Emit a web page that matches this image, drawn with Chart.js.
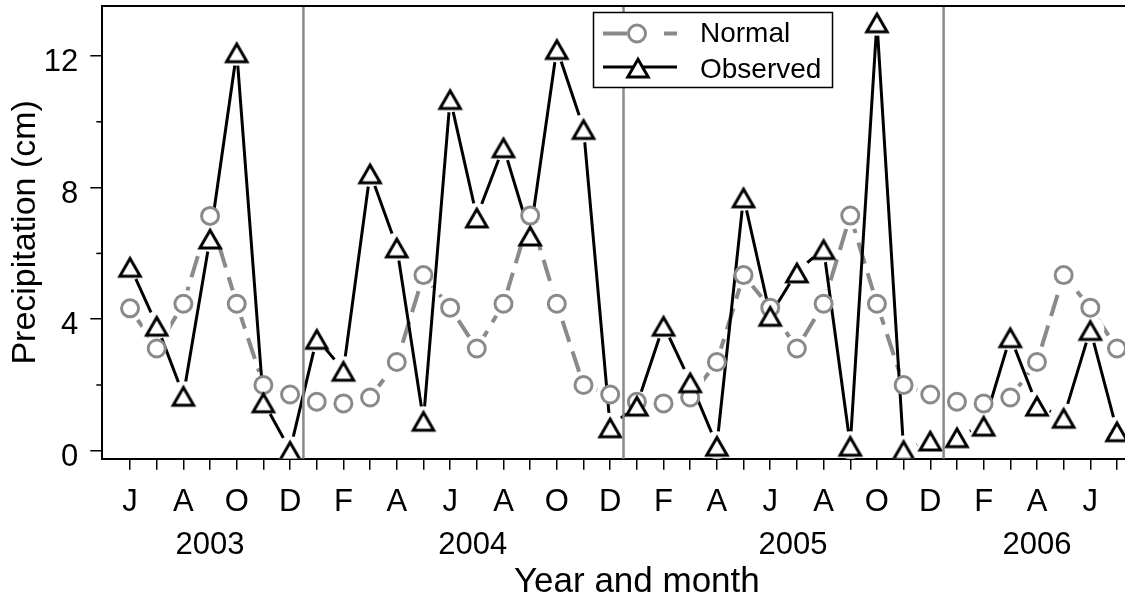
<!DOCTYPE html>
<html>
<head>
<meta charset="utf-8">
<title>Precipitation, normal vs observed</title>
<script src="https://cdn.jsdelivr.net/npm/chart.js"></script>
<style>
  body { margin: 0; background: #fff; }
  #wrap { width: 1125px; height: 600px; }
</style>
</head>
<body>
<div id="wrap"><canvas id="precipChart" width="1125" height="600"></canvas></div>
<script>
// month letters, Jun 2003 .. Jul 2006
var months = ["J", "J", "A", "S", "O", "N", "D",
  "J", "F", "M", "A", "M", "J", "J", "A", "S", "O", "N", "D",
  "J", "F", "M", "A", "M", "J", "J", "A", "S", "O", "N", "D",
  "J", "F", "M", "A", "M", "J", "J"];
var years = ["2003", "2004", "2005", "2006"];

// precipitation (cm)
var normal = [4.33, 3.11, 4.47, 7.14, 4.47, 2.0, 1.71,
  1.49, 1.44, 1.62, 2.7, 5.34, 4.35, 3.11, 4.47, 7.15, 4.47, 2.0, 1.71,
  1.49, 1.44, 1.62, 2.7, 5.34, 4.35, 3.11, 4.47, 7.15, 4.47, 2.0, 1.71,
  1.49, 1.44, 1.62, 2.7, 5.34, 4.35, 3.11];
var observed = [5.61, 3.82, 1.69, 6.47, 12.13, 1.49, 0.02,
  3.42, 2.45, 8.45, 6.2, 0.93, 10.71, 7.11, 9.24, 6.56, 12.23, 9.8, 0.73,
  1.39, 3.82, 2.1, 0.17, 7.72, 4.12, 5.44, 6.15, 0.17, 13.04, 0.04, 0.33,
  0.43, 0.78, 3.47, 1.39, 1.02, 3.69, 0.61];

var yTicks = [0, 4, 8, 12];
var yMinorTicks = [2, 6, 10];

// layout bits (month index units)
var yearLabelPos = [3, 12.85, 24.85, 34];
var yearBreaks = [6.5, 18.5, 30.5];
var xTitlePos = 19;

var GRAY = "#8a8a8a";
var FONT = "'Liberation Sans', Arial, sans-serif";
Chart.defaults.font.family = FONT;
Chart.defaults.color = "#000";

function toPoints(arr) {
  return arr.map(function (v, i) { return { x: i, y: v }; });
}

// scales must not push the plot area in
function noPad(s) {
  s.paddingTop = 0; s.paddingBottom = 0;
  s.paddingLeft = 0; s.paddingRight = 0;
}

// R style open triangle, sits a little low on its point
function makeTriangle() {
  var c = document.createElement("canvas");
  c.width = 32; c.height = 32;
  var g = c.getContext("2d");
  var r = 11.8, cx = 16, cy = 16 + 4;
  g.beginPath();
  g.moveTo(cx, cy - r);
  g.lineTo(cx + r * Math.sqrt(3) / 2, cy + r / 2);
  g.lineTo(cx - r * Math.sqrt(3) / 2, cy + r / 2);
  g.closePath();
  g.fillStyle = "#fff";
  g.fill();
  g.lineWidth = 3;
  g.strokeStyle = "#000";
  g.stroke();
  return c;
}
var triangle = makeTriangle();

var extras = {
  id: "extras",
  afterDatasetsDraw: function (chart) {
    var ctx = chart.ctx, a = chart.chartArea, x = chart.scales.x;
    ctx.save();
    ctx.strokeStyle = GRAY;
    ctx.lineWidth = 2.5;
    yearBreaks.forEach(function (b) {
      var px = x.getPixelForValue(b);
      ctx.beginPath();
      ctx.moveTo(px, a.top);
      ctx.lineTo(px, a.bottom);
      ctx.stroke();
    });
    ctx.restore();
  },
  afterDraw: function (chart) {
    var ctx = chart.ctx, a = chart.chartArea, y = chart.scales.y, x = chart.scales.x;
    ctx.save();
    ctx.strokeStyle = "#000";
    ctx.lineWidth = 2;
    ctx.beginPath();
    ctx.moveTo(a.left - 1, a.top);
    ctx.lineTo(a.right, a.top);
    ctx.stroke();

    ctx.lineWidth = 1.5;
    yMinorTicks.forEach(function (v) {
      var py = y.getPixelForValue(v);
      ctx.beginPath();
      ctx.moveTo(a.left - 6, py);
      ctx.lineTo(a.left, py);
      ctx.stroke();
    });

    // x axis title, R puts it a bit right of centre
    ctx.fillStyle = "#000";
    ctx.font = "35px " + FONT;
    ctx.textAlign = "center";
    ctx.textBaseline = "alphabetic";
    ctx.fillText("Year and month", x.getPixelForValue(xTitlePos), 591.5);

    // legend box
    var lx = 593.5, ly = 12.5;
    ctx.fillStyle = "#fff";
    ctx.fillRect(lx, ly, 239, 75);
    ctx.lineWidth = 1.5;
    ctx.strokeStyle = "#000";
    ctx.strokeRect(lx, ly, 239, 75);

    ctx.strokeStyle = GRAY;
    ctx.lineWidth = 4;
    ctx.setLineDash([24, 37]);
    ctx.beginPath();
    ctx.moveTo(603, 33.5);
    ctx.lineTo(677, 33.5);
    ctx.stroke();
    ctx.setLineDash([]);
    ctx.lineWidth = 3;
    ctx.fillStyle = "#fff";
    ctx.beginPath();
    ctx.arc(637, 33.5, 8.5, 0, 2 * Math.PI);
    ctx.fill();
    ctx.stroke();

    ctx.strokeStyle = "#000";
    ctx.lineWidth = 3;
    ctx.beginPath();
    ctx.moveTo(603, 67);
    ctx.lineTo(677, 67);
    ctx.stroke();
    ctx.drawImage(triangle, 638 - 16, 67 - 16);

    ctx.fillStyle = "#000";
    ctx.font = "28px " + FONT;
    ctx.textAlign = "left";
    ctx.fillText("Normal", 700, 42);
    ctx.fillText("Observed", 700, 78);
    ctx.restore();
  }
};

var ctx = document.getElementById("precipChart").getContext("2d");
var precipChart = new Chart(ctx, {
  type: "line",
  data: {
    datasets: [
      {
        label: "Normal",
        data: toPoints(normal),
        borderColor: GRAY,
        borderWidth: 4,
        borderDash: [22, 10],
        pointRadius: 0,
        order: 60,
      },
      {
        label: "normal gap",
        data: toPoints(normal),
        showLine: false,
        pointRadius: 14,
        pointBorderWidth: 0,
        pointBackgroundColor: "#fff",
        pointBorderColor: "#fff",
        order: 50,
      },
      {
        label: "Observed",
        data: toPoints(observed),
        borderColor: "#000",
        borderWidth: 3,
        pointRadius: 0,
        order: 40,
      },
      {
        label: "observed gap",
        data: toPoints(observed),
        showLine: false,
        pointRadius: 14,
        pointBorderWidth: 0,
        pointBackgroundColor: "#fff",
        pointBorderColor: "#fff",
        order: 30,
      },
      {
        label: "Normal points",
        data: toPoints(normal),
        showLine: false,
        pointStyle: "circle",
        pointRadius: 8.5,
        pointBorderWidth: 3,
        pointBorderColor: GRAY,
        pointBackgroundColor: "#fff",
        order: 20,
      },
      {
        label: "Observed points",
        data: toPoints(observed),
        showLine: false,
        pointStyle: triangle,
        pointRadius: 12,
        order: 10,
      },
    ],
  },
  options: {
    responsive: false,
    animation: false,
    devicePixelRatio: 1,
    events: [],
    layout: { autoPadding: false, padding: { top: 6, left: 0, right: 0, bottom: 0 } },
    elements: { line: { tension: 0 } },
    plugins: { legend: { display: false }, tooltip: { enabled: false } },
    scales: {
      x: {
        type: "linear",
        position: "bottom",
        min: -1.04,
        max: 37.3,
        weight: 0,
        z: 1,
        afterBuildTicks: function (s) {
          s.ticks = months.map(function (m, i) { return { value: i }; });
        },
        afterFit: function (s) { s.height = 60; noPad(s); },
        ticks: {
          autoSkip: false,
          maxRotation: 0,
          padding: 14.5,
          font: { size: 31 },
          color: "#000",
          callback: function (v, i) { return i % 2 === 0 ? months[i] : ""; },
        },
        grid: { drawOnChartArea: false, tickLength: 11, color: "#000", lineWidth: 1.5 },
        border: { color: "#000", width: 2 },
      },
      x2: {
        type: "linear",
        position: "bottom",
        min: -1.04,
        max: 37.3,
        weight: 1,
        afterBuildTicks: function (s) {
          s.ticks = yearLabelPos.map(function (p) { return { value: p }; });
        },
        afterFit: function (s) { s.height = 81.3; noPad(s); },
        ticks: {
          autoSkip: false,
          maxRotation: 0,
          padding: 8,
          font: { size: 31 },
          color: "#000",
          callback: function (v, i) { return years[i]; },
        },
        grid: { display: false, drawTicks: false, tickLength: 0 },
        border: { display: false },
      },
      y: {
        min: -0.24,
        max: 13.52,
        z: 1,
        afterBuildTicks: function (s) {
          s.ticks = yTicks.map(function (v) { return { value: v }; });
        },
        afterFit: function (s) { s.width = 102.3; noPad(s); },
        ticks: { padding: 12, labelOffset: 6.5, font: { size: 31 }, color: "#000" },
        grid: { drawOnChartArea: false, tickLength: 12, color: "#000", lineWidth: 1.5 },
        border: { color: "#000", width: 2 },
        title: {
          display: true,
          text: "Precipitation (cm)",
          font: { size: 34 },
          color: "#000",
          padding: { top: 5, bottom: 0 },
        },
      },
    },
  },
  plugins: [extras],
});
</script>
</body>
</html>
